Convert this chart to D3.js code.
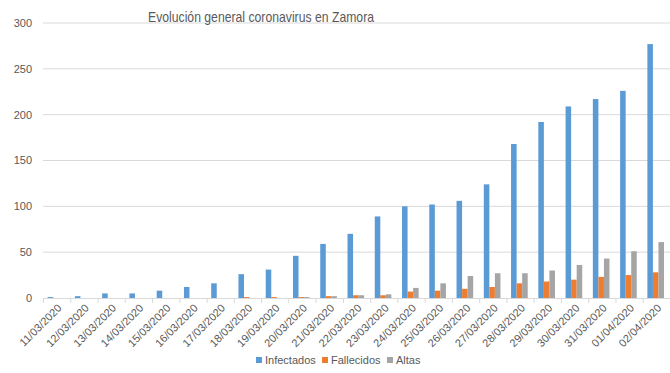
<!DOCTYPE html>
<html><head><meta charset="utf-8">
<script src="https://cdn.jsdelivr.net/npm/d3@7"></script>
<style>body{margin:0;background:#fff}svg{display:block}</style>
</head><body>
<script>
const categories = ["11/03/2020","12/03/2020","13/03/2020","14/03/2020","15/03/2020","16/03/2020","17/03/2020","18/03/2020","19/03/2020","20/03/2020","21/03/2020","22/03/2020","23/03/2020","24/03/2020","25/03/2020","26/03/2020","27/03/2020","28/03/2020","29/03/2020","30/03/2020","31/03/2020","01/04/2020","02/04/2020"];
const infectados = [1,2,5,5,8,12,16,26,31,46,59,70,89,100,102,106,124,168,192,209,217,226,277];
const fallecidos = [0,0,0,0,0,0,0,1,1,1,2,3,3,7,8,10,12,16,18,20,23,25,28];
const altas = [0,0,0,0,0,0,0,0,0,1,2,3,4,11,16,24,27,27,30,36,43,51,61];
const seriesNames = ["Infectados","Fallecidos","Altas"];
const seriesValues = [infectados, fallecidos, altas];
const colors = ["#5B9BD5","#ED7D31","#A5A5A5"];
const yTicks = [0,50,100,150,200,250,300];
const title = "Evolución general coronavirus en Zamora";

const W = 670, H = 373;
const font = "'Liberation Sans', Arial, sans-serif";
const svg = d3.select("body").append("svg").attr("width", W).attr("height", H);

const x = d3.scaleBand().domain(categories).range([43, 670]).paddingInner(0).paddingOuter(0);
const bw = x.bandwidth();
const x1 = d3.scaleBand().domain(seriesNames).range([bw*0.17, bw*0.78]).paddingInner(0);
const y = d3.scaleLinear().domain([0, 300]).range([298, 23]);

// gridlines
svg.append("g").selectAll("line").data(yTicks.filter(t => t > 0)).join("line")
  .attr("x1", 43).attr("x2", 670)
  .attr("y1", d => y(d)).attr("y2", d => y(d))
  .attr("stroke", "#d9d9d9").attr("stroke-width", 1);

// y labels
svg.append("g").selectAll("text").data(yTicks).join("text")
  .attr("x", 32).attr("y", d => y(d)).attr("dy", "0.35em")
  .attr("text-anchor", "end").attr("font-family", font).attr("font-size", 11)
  .attr("fill", "#595959").text(d => d);

// bars
seriesNames.forEach((s, si) => {
  svg.append("g").selectAll("rect").data(categories).join("rect")
    .attr("x", (c) => x(c) + x1(s))
    .attr("width", x1.bandwidth())
    .attr("y", (c, i) => y(seriesValues[si][i]))
    .attr("height", (c, i) => y(0) - y(seriesValues[si][i]))
    .attr("fill", colors[si]);
});

// x axis line and ticks
svg.append("line").attr("x1", 43).attr("x2", 670).attr("y1", y(0)+0.5).attr("y2", y(0)+0.5)
  .attr("stroke", "#d9d9d9");
svg.append("g").selectAll("line").data(categories).join("line")
  .attr("x1", c => x(c)+0.5).attr("x2", c => x(c)+0.5)
  .attr("y1", y(0)).attr("y2", y(0)+5).attr("stroke", "#d9d9d9");

// x labels
svg.append("g").selectAll("text").data(categories).join("text")
  .attr("transform", c => `translate(${x(c) + bw/2 + 3},${y(0) + 8}) rotate(-45)`)
  .attr("text-anchor", "end").attr("dy", "0.35em")
  .attr("font-family", font).attr("font-size", 11).attr("fill", "#595959")
  .text(c => c);

// title
svg.append("text").attr("x", 261).attr("y", 22).attr("text-anchor", "middle")
  .attr("font-family", font).attr("font-size", 15).attr("fill", "#595959")
  .attr("textLength", 226).attr("lengthAdjust", "spacingAndGlyphs")
  .text(title);

// legend
const legendX = [256, 322, 387];
const lg = svg.append("g");
seriesNames.forEach((s, i) => {
  lg.append("rect").attr("x", legendX[i]).attr("y", 357).attr("width", 6).attr("height", 6).attr("fill", colors[i]);
  lg.append("text").attr("x", legendX[i] + 9).attr("y", 360).attr("dy", "0.35em")
    .attr("font-family", font).attr("font-size", 11).attr("fill", "#595959").text(s);
});
</script>
</body></html>
